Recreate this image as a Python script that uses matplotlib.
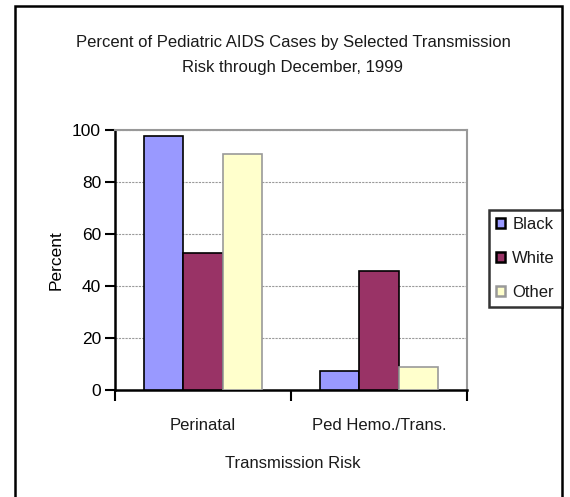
import matplotlib
matplotlib.use('Agg')
import matplotlib.pyplot as plt
import numpy as np
from matplotlib.patches import Rectangle

# pediatric AIDS cases by transmission risk, percent by race
categories = ['Perinatal', 'Ped Hemo./Trans.']
series = ['Black', 'White', 'Other']
black = [97.7, 7.3]
white = [52.8, 45.9]
other = [90.6, 8.9]

colors = ['#9999ff', '#993366', '#ffffcc']
edges = ['black', 'black', '#999999']

plt.rcParams['font.family'] = ['Liberation Sans', 'DejaVu Sans']
plt.rcParams['text.color'] = '#1a1a1a'

fig = plt.figure(figsize=(5.7, 4.97), dpi=100)
ax = fig.add_axes([115/570, 1 - 390/497, (467 - 115)/570, (390 - 130)/497])

x = np.arange(len(categories))
w = 1 / 4.5
for i, vals in enumerate([black, white, other]):
    ax.bar(x + (i - 1) * w, vals, width=w, color=colors[i], edgecolor=edges[i],
           linewidth=1.2, label=series[i], zorder=3)

ax.set_xlim(-0.5, 1.5)
ax.set_ylim(0, 100)
ax.set_yticks(range(0, 101, 20))
ax.set_xticks([-0.5, 0.5, 1.5])
ax.set_xticklabels([])
ax.tick_params(axis='x', direction='out', length=8, width=1.5, color='black')
ax.tick_params(axis='y', direction='out', length=7, width=1.5, color='black',
               labelsize=12.5, pad=3)
for c, lab in zip(x, categories):
    ax.text(c, -13.5, lab, ha='center', va='center', fontsize=12)

ax.grid(axis='y', color='#9a9a9a', linestyle=(0, (2, 1)), linewidth=0.8, zorder=0)
ax.spines['left'].set_linewidth(1.8)
ax.spines['bottom'].set_linewidth(1.8)
ax.spines['top'].set_color('#999999')
ax.spines['right'].set_color('#999999')
ax.spines['top'].set_linewidth(1.5)
ax.spines['right'].set_linewidth(1.5)

ax.set_ylabel('Percent', fontsize=12.5, labelpad=6)
fig.text(293/570, 1 - 463/497, 'Transmission Risk', ha='center', va='center', fontsize=12)
fig.text(293/570, 1 - 55/497,
         'Percent of Pediatric AIDS Cases by Selected Transmission\nRisk through December, 1999',
         ha='center', va='center', fontsize=12, linespacing=1.9)

leg = fig.legend(loc='upper left', bbox_to_anchor=(489/570, 1 - 210/497),
                 fontsize=12, frameon=True, fancybox=False, handlelength=0.55,
                 handleheight=0.6, handletextpad=0.45, labelspacing=1.15,
                 borderpad=0.4, borderaxespad=0)
leg.get_frame().set_edgecolor('black')
leg.get_frame().set_linewidth(1.8)
for h in leg.legend_handles:
    h.set_linewidth(1.8)

# outer chart border, bottom edge runs off the image
fig.patches.append(Rectangle((15/570, -0.05), (562 - 15)/570, 1.05 - 6/497,
                             transform=fig.transFigure, fill=False,
                             edgecolor='black', linewidth=1.8))

fig.savefig('out.png', dpi=100)
